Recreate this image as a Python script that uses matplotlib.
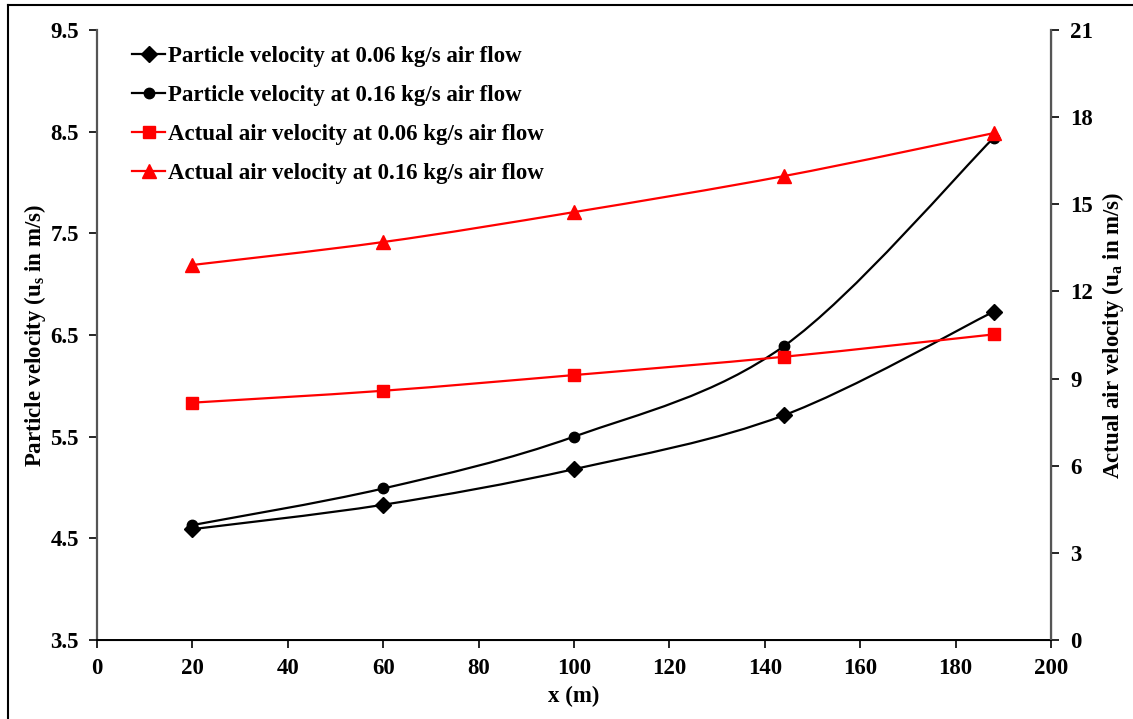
import matplotlib
matplotlib.use("Agg")
import matplotlib.pyplot as plt
from matplotlib.path import Path
from matplotlib.patches import PathPatch
from matplotlib.lines import Line2D

plt.rcParams['font.family'] = ['Liberation Serif', 'DejaVu Serif']
plt.rcParams['font.weight'] = 'bold'
plt.rcParams['mathtext.fontset'] = 'custom'
plt.rcParams['mathtext.rm'] = 'Liberation Serif:bold'
plt.rcParams['mathtext.it'] = 'Liberation Serif:bold'

# data
x = [20, 60, 100, 144, 188]
part_006 = [4.59, 4.83, 5.18, 5.71, 6.73]
part_016 = [4.63, 4.99, 5.50, 6.39, 8.44]
air_006 = [8.17, 8.58, 9.12, 9.75, 10.52]
air_016 = [12.91, 13.70, 14.73, 15.97, 17.45]

labels = ['Particle velocity at 0.06 kg/s air flow',
          'Particle velocity at 0.16 kg/s air flow',
          'Actual air velocity at 0.06 kg/s air flow',
          'Actual air velocity at 0.16 kg/s air flow']


def smooth_path(xs, ys):
    # excel-style smoothed line: catmull-rom tangents as cubic bezier
    pts = list(zip(xs, ys))
    verts = [pts[0]]
    codes = [Path.MOVETO]
    n = len(pts)
    for i in range(n - 1):
        p0 = pts[i - 1] if i > 0 else pts[i]
        p1 = pts[i]
        p2 = pts[i + 1]
        p3 = pts[i + 2] if i + 2 < n else pts[i + 1]
        c1 = (p1[0] + (p2[0] - p0[0]) / 6, p1[1] + (p2[1] - p0[1]) / 6)
        c2 = (p2[0] - (p3[0] - p1[0]) / 6, p2[1] - (p3[1] - p1[1]) / 6)
        verts += [c1, c2, p2]
        codes += [Path.CURVE4] * 3
    return Path(verts, codes)


fs = 16.5

fig = plt.figure(figsize=(11.33, 7.19), dpi=100)
ax = fig.add_axes([0.0856, 0.1099, 0.842, 0.8484])
ax2 = ax.twinx()

lw = 1.6
series = [
    (ax, part_006, 'black', 'D', 8.5),
    (ax, part_016, 'black', 'o', 7.5),
    (ax2, air_006, 'red', 's', 8.5),
    (ax2, air_016, 'red', '^', 9.5),
]
handles = []
for a, ys, c, m, ms in series:
    a.add_patch(PathPatch(smooth_path(x, ys), fill=False, edgecolor=c, lw=lw, zorder=2))
    a.plot(x, ys, linestyle='none', marker=m, color=c, markersize=ms, zorder=3)
    handles.append(Line2D([], [], color=c, lw=lw, marker=m, markersize=ms))

ax.set_xlim(0, 200)
ax.set_ylim(3.5, 9.5)
ax2.set_ylim(0, 21)
ax.set_xticks(range(0, 201, 20))
ax.set_yticks([3.5, 4.5, 5.5, 6.5, 7.5, 8.5, 9.5])
ax2.set_yticks(range(0, 22, 3))

for a in (ax, ax2):
    a.spines['top'].set_visible(False)
    a.tick_params(direction='out', length=6, width=1.2, labelsize=fs)
ax.spines['left'].set_color('#555555')
ax.spines['left'].set_linewidth(1.6)
ax2.spines['right'].set_color('#555555')
ax2.spines['right'].set_linewidth(1.6)
ax2.spines['left'].set_visible(False)
ax.spines['bottom'].set_linewidth(1.4)
ax.tick_params(axis='y', pad=7)
ax.tick_params(axis='x', pad=7)
ax2.tick_params(axis='y', pad=8)

ax.set_xlabel('x (m)', fontsize=fs, fontweight='bold', labelpad=5)
ax.set_ylabel('Particle velocity (u$_\\mathrm{s}$ in m/s)', fontsize=fs, fontweight='bold', labelpad=2)
ax2.set_ylabel('Actual air velocity (u$_\\mathrm{a}$ in m/s)', fontsize=fs, fontweight='bold', labelpad=5)

ax2.legend(handles, labels, loc='upper left', bbox_to_anchor=(0.02, 1.0), frameon=False,
           fontsize=fs, handlelength=1.45, handletextpad=0.12, labelspacing=0.78,
           borderaxespad=0.3)

# outer frame (only top and left edges visible in the crop)
fig.add_artist(Line2D([8 / 1133, 1.0], [1 - 5 / 719, 1 - 5 / 719], transform=fig.transFigure, color='black', lw=1.5))
fig.add_artist(Line2D([8 / 1133, 8 / 1133], [0.0, 1 - 5 / 719], transform=fig.transFigure, color='black', lw=1.5))

fig.savefig('out.png', dpi=100)
